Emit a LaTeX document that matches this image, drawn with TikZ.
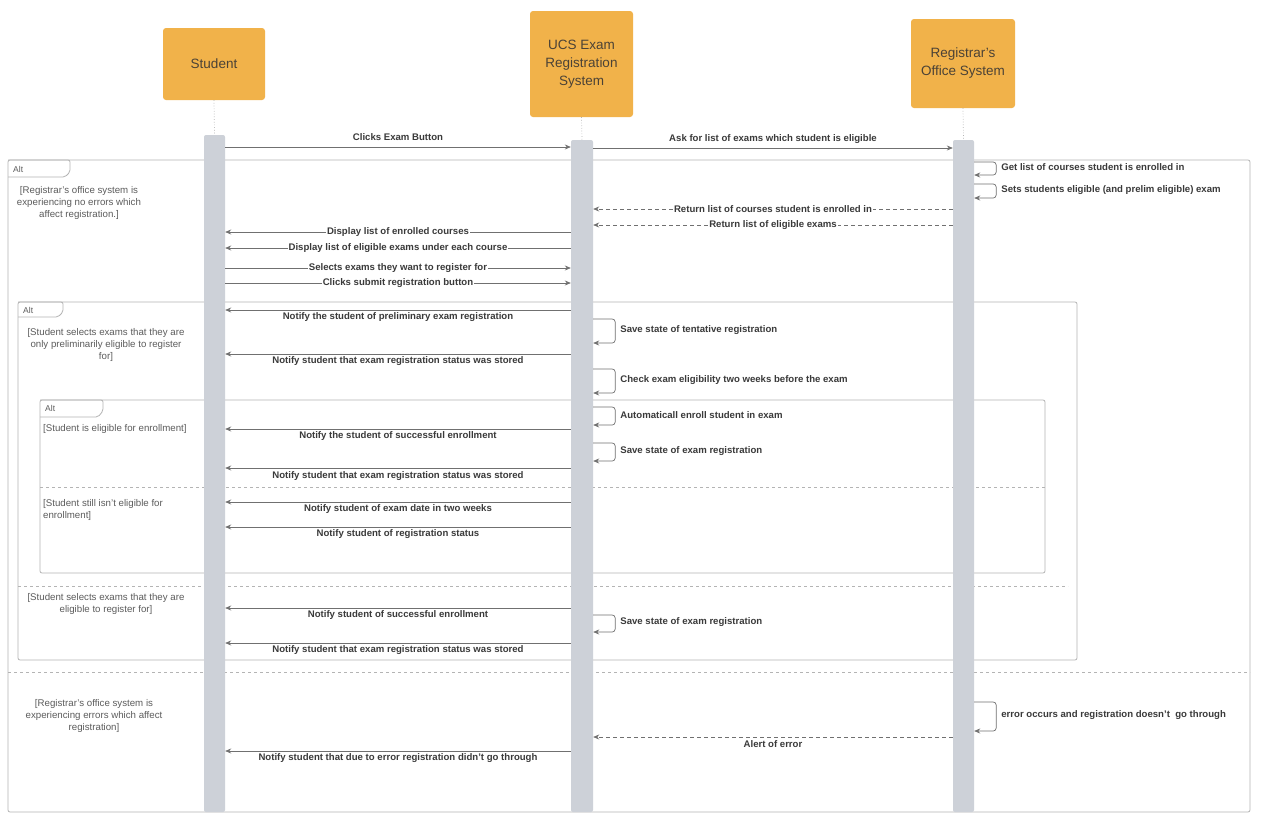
\documentclass[tikz,border=0pt]{standalone}
\usepackage{fontspec}
\setmainfont{Liberation Sans}
\usetikzlibrary{arrows.meta}

\definecolor{headfill}{HTML}{F1B24A}
\definecolor{headtext}{HTML}{4B4236}
\definecolor{barfill}{HTML}{CDD1D8}
\definecolor{framegray}{HTML}{B4B4B4}
\definecolor{linegray}{HTML}{707070}
\definecolor{labeltext}{HTML}{3A3A3A}
\definecolor{guardtext}{HTML}{5C5C5C}

\tikzset{
  headbox/.style={rectangle, rounded corners=3pt, fill=headfill, text=headtext,
    align=center, font=\fontsize{13.5}{18}\selectfont, inner sep=0pt},
  barbox/.style={rectangle, rounded corners=2pt, fill=barfill, inner sep=0pt},
  lifeline/.style={draw=framegray, dotted, line width=0.7pt},
  altframe/.style={draw=framegray, line width=0.8pt, rounded corners=2pt},
  altdivider/.style={draw=framegray, line width=0.8pt, dash pattern=on 3pt off 3pt},
  alttab/.style={draw=framegray, line width=0.8pt, rounded corners=2pt},
  altname/.style={font=\fontsize{8.5}{10}\selectfont, text=guardtext, anchor=west, inner sep=0pt},
  callmsg/.style={draw=linegray, line width=0.7pt, -{Stealth[length=6pt,width=5pt]}},
  replymsg/.style={callmsg, dash pattern=on 4pt off 3pt},
  selfmsg/.style={callmsg, rounded corners=3pt},
  lbl/.style={font=\fontsize{9.6}{11}\selectfont\bfseries, text=labeltext, inner sep=1pt},
  onlbl/.style={lbl, fill=white},
  guard/.style={font=\fontsize{9.7}{12}\selectfont, text=guardtext, align=center, inner sep=0pt},
}

% self message on a lifeline bar: bar, top y, bottom y, text
\newcommand\selfcall[4]{%
  \draw[selfmsg] (#1.east |- 0,#2) -- ++(22,0) -- ++(0,{#3-#2}) -- (#1.east |- 0,#3);
  \node[lbl, anchor=west] at ([xshift=26pt]#1.east |- 0,{(#2+#3)/2-1}) {#4};
}

\begin{document}
\begin{tikzpicture}[x=1pt, y=-1pt]
  \fill[white] (0,0) rectangle (1262,839);
  \useasboundingbox (0,0) rectangle (1262,839);

  % ---- combined fragments ----
  \draw[altframe] (8,160) rectangle (1250,812);
  \draw[alttab] (8,160) -- (70,160) -- (70,172) -- (65,177) -- (8,177);
  \node[altname] (altA) at (13,169) {Alt};
  \draw[altdivider] (8,672) -- (1250,672);

  \draw[altframe] (18,302) rectangle (1077,660);
  \draw[alttab] (18,302) -- (63,302) -- (63,312) -- (58,317) -- (18,317);
  \node[altname] (altB) at (23,310) {Alt};
  \draw[altdivider] (18,586) -- (1068,586);

  \draw[altframe] (40,400) rectangle (1045,573);
  \draw[alttab] (40,400) -- (103,400) -- (103,411) -- (98,417) -- (40,417);
  \node[altname] (altC) at (45,408) {Alt};
  \draw[altdivider] (40,487) -- (1045,487);

  % ---- guards ----
  \node[guard] (g1) at (79,203) {[Registrar's office system is\\experiencing no errors which\\affect registration.]};
  \node[guard] (g2) at (94,716) {[Registrar's office system is\\experiencing errors which affect\\registration]};
  \node[guard] (g3) at (106,345) {[Student selects exams that they are\\only preliminarily eligible to register\\for]};
  \node[guard] (g4) at (106,604) {[Student selects exams that they are\\eligible to register for]};
  \node[guard, anchor=west] (g5) at (43,429) {[Student is eligible for enrollment]};
  \node[guard, anchor=north west, align=left] (g6) at (43,499) {[Student still isn't eligible for\\enrollment]};

  % ---- participants ----
  \node[headbox, minimum width=102pt, minimum height=72pt] (stuHead) at (214,64) {Student};
  \node[headbox, minimum width=103pt, minimum height=106pt] (ucsHead) at (581.5,64) {UCS Exam\\Registration\\System};
  \node[headbox, minimum width=104pt, minimum height=89pt] (regHead) at (963,63.5) {Registrar's\\Office System};

  \node[barbox, minimum width=21pt, minimum height=677pt] (stuBar) at (214.5,473.5) {};
  \node[barbox, minimum width=22pt, minimum height=672pt] (ucsBar) at (582,476) {};
  \node[barbox, minimum width=21pt, minimum height=672pt] (regBar) at (963.5,476) {};

  \draw[lifeline] (stuHead.south) -- (stuBar.north);
  \draw[lifeline] (ucsHead.south) -- (ucsBar.north);
  \draw[lifeline] (regHead.south) -- (regBar.north);

  % ---- messages ----
  \draw[callmsg] (stuBar.east |- 0,147) -- (ucsBar.west |- 0,147);
  \node[lbl] at (398,137) {Clicks Exam Button};
  \draw[callmsg] (ucsBar.east |- 0,148) -- (regBar.west |- 0,148);
  \node[lbl] at (773,139) {Ask for list of exams which student is eligible};

  \selfcall{regBar}{162}{175}{Get list of courses student is enrolled in}
  \selfcall{regBar}{184}{198}{Sets students eligible (and prelim eligible) exam}

  \draw[replymsg] (regBar.west |- 0,209) -- (ucsBar.east |- 0,209);
  \node[onlbl] at (773,209) {Return list of courses student is enrolled in};
  \draw[replymsg] (regBar.west |- 0,225) -- (ucsBar.east |- 0,225);
  \node[onlbl] at (773,225) {Return list of eligible exams};

  \draw[callmsg] (ucsBar.west |- 0,232) -- (stuBar.east |- 0,232);
  \node[onlbl] at (398,232) {Display list of enrolled courses};
  \draw[callmsg] (ucsBar.west |- 0,248) -- (stuBar.east |- 0,248);
  \node[onlbl] at (398,248) {Display list of eligible exams under each course};
  \draw[callmsg] (stuBar.east |- 0,268) -- (ucsBar.west |- 0,268);
  \node[onlbl] at (398,268) {Selects exams they want to register for};
  \draw[callmsg] (stuBar.east |- 0,283) -- (ucsBar.west |- 0,283);
  \node[onlbl] at (398,283) {Clicks submit registration button};

  \draw[callmsg] (ucsBar.west |- 0,310) -- (stuBar.east |- 0,310);
  \node[lbl] at (398,317) {Notify the student of preliminary exam registration};
  \selfcall{ucsBar}{319}{343}{Save state of tentative registration}
  \draw[callmsg] (ucsBar.west |- 0,354) -- (stuBar.east |- 0,354);
  \node[lbl] at (398,361) {Notify student that exam registration status was stored};
  \selfcall{ucsBar}{369}{393}{Check exam eligibility two weeks before the exam}

  \selfcall{ucsBar}{407}{425}{Automaticall enroll student in exam}
  \draw[callmsg] (ucsBar.west |- 0,429) -- (stuBar.east |- 0,429);
  \node[lbl] at (398,436) {Notify the student of successful enrollment};
  \selfcall{ucsBar}{443}{461}{Save state of exam registration}
  \draw[callmsg] (ucsBar.west |- 0,468) -- (stuBar.east |- 0,468);
  \node[lbl] at (398,476) {Notify student that exam registration status was stored};

  \draw[callmsg] (ucsBar.west |- 0,502) -- (stuBar.east |- 0,502);
  \node[lbl] at (398,509) {Notify student of exam date in two weeks};
  \draw[callmsg] (ucsBar.west |- 0,527) -- (stuBar.east |- 0,527);
  \node[lbl] at (398,534) {Notify student of registration status};

  \draw[callmsg] (ucsBar.west |- 0,608) -- (stuBar.east |- 0,608);
  \node[lbl] at (398,615) {Notify student of successful enrollment};
  \selfcall{ucsBar}{615}{632}{Save state of exam registration}
  \draw[callmsg] (ucsBar.west |- 0,643) -- (stuBar.east |- 0,643);
  \node[lbl] at (398,650) {Notify student that exam registration status was stored};

  \selfcall{regBar}{702}{731}{error occurs and registration doesn't~ go through}
  \draw[replymsg] (regBar.west |- 0,737) -- (ucsBar.east |- 0,737);
  \node[lbl] at (773,744) {Alert of error};
  \draw[callmsg] (ucsBar.west |- 0,751) -- (stuBar.east |- 0,751);
  \node[lbl] at (398,758) {Notify student that due to error registration didn't go through};
\end{tikzpicture}
\end{document}
